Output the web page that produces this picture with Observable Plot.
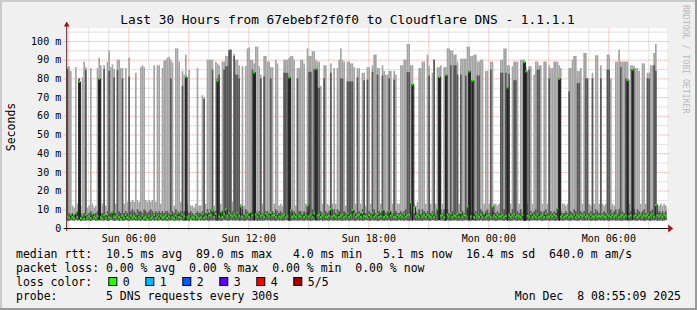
<!DOCTYPE html>
<html><head><meta charset="utf-8">
<script src="https://cdn.jsdelivr.net/npm/d3@7"></script>
<script src="https://cdn.jsdelivr.net/npm/@observablehq/plot@0.6"></script>
<style>
html,body{margin:0;padding:0;background:#f0f0f0;}
#chart svg{display:block;}
</style></head><body><div id="chart"></div>
<script>
// ---- data: one entry per 5-minute step (360 steps = 30 hours), values in ms ----
const maxMs = [
86,86.5,84,12,11,86,13,80,12,80.5,89,86,11,12,85.5,13,11,12,85.5,91,
87,13,87,12,89,95,86,87.5,85,13,90,90,85.5,85.5,13,85.5,14,91,14,15,
14,83,15,14,86,87,86,15,14,15,14,15,87,14,87,87,13,85.5,89.5,90,
91,91.5,90,88.5,12,96,96,89,14,84,82,92.7,13,84.5,12,12,11,13,85.5,12,
12,71,70,13,90,90,90,90,12,89,88,87,13,89,89,92,92,95.4,95.4,14,
93,90,90,87,13,86.5,12,86.5,96,96.5,90,90,88,97,97,86.5,82,13,92,92,
89,89,86,86,13,90,88,12,13,12,90,90,90,91,92,92,90,12,85.5,85.5,
90,90,88,13,96,92,92,94.5,94.5,90,89,89,76,13,87,87,13,12,88,13,
85.5,13,85.5,90,96,90,89,12,89,89,88,88,86,13,85.5,85.5,13,83,83,12,
86,86,13,87,92.7,92.7,85.5,85.5,13,87,84,82,82,84,84,13,84,82,13,13,
87,87,90,90,98.4,98.4,87,87,13,12,14,85.5,85.5,89,89,13,92.7,86.5,13,83,
90,13,86,86,87,13,86,86,96,96,95,95,92.7,92.7,89,13,90.5,90.5,90.5,90.5,
97,97,92,92,92.7,92.7,89,89,90,90,13,84,84,13,89,89,13,13,12,13,
90,90,96,96,87,87,13,86.5,89,89,89,13,90,90,90,86.5,13,86.5,86.5,13,
82,89,89,87,87,13,89,89,13,87,85.5,85.5,89,89,89,87,85.5,13,13,12,
13,85.5,85.5,90,92,92,84,84,85.5,13,93.6,93.6,80,13,12,83,13,92.4,92.4,13,
87,13,12,13,92.7,92.7,80,13,12,89,89,95.4,89,89,89,89,89,13,87,87,
86.5,85.5,85.5,84,13,88,88,13,83,83,87,87,93.6,98.4,13,12,13,12,13,12
];
const innerMs = [
85,8,7,8,7,8,9,80,8,7,8,84.5,7,8,9,8,7,8,9,80,
8,8,85,7,9,84,8,9,80.5,8,84.5,9,8,80,8,9,8,81,9,10,
9,8,10,9,9,8,10,9,8,9,10,9,8,9,8,9,8,9,8,9,
9,8,80,9,8,10,9,8,9,76,9,81,9,8,9,8,7,8,9,8,
8,9,69,8,10,8,10,84.7,8,9,80,82,8,9,84.7,86.5,86.5,95,95.4,9,
92,82,82,80,8,10,8,10,9,8,9,84.7,83.4,9,8,9,80,8,81,9,
9,8,80,9,8,10,9,8,9,8,83,83,83,81,9,8,9,8,80,9,
9,8,9,8,9,83.5,83.5,10,85,85.2,75,75,9,8,80,9,8,9,83,8,
10,8,10,9,80,80,9,8,78.4,78.4,78.4,78.4,9,8,80.5,9,8,10,79,8,
79.3,9,8,83.5,10,8,82,9,8,81.5,9,8,9,80,9,8,79.3,9,8,8,
9,8,9,10,83.4,83.4,9,77,8,9,8,10,8,10,9,8,9,81.5,8,9,
90,8,9,81,10,8,10,82,10,8,87,9,87,87,82,8,82,9,8,81.5,
10,84,9,79,8,9,81.5,81.5,10,9,8,9,10,8,84.7,9,8,8,9,8,
83,83,10,83,75.4,82.5,8,10,79,79,9,8,10,8,89,84,8,84.7,9,8,
9,10,84.7,84.7,9,8,9,10,8,80,9,8,9,8,9,80,9,8,8,9,
8,73,9,8,10,9,77.5,77.5,9,8,9,80,80,8,9,80,8,10,9,8,
80,8,9,8,84.7,84.7,10,8,9,10,8,10,86,9,8,80,79.3,8,9,85,
10,8,10,9,8,9,10,8,80,80,9,10,87,84,8,9,8,9,8,9
];
const medianMs = [
6.2,5.8,7.5,6.1,5.4,8.3,6.0,78.4,5.6,6.8,5.2,7.1,5.9,6.4,5.5,7.9,6.3,5.7,6.6,80,
6.0,5.3,6.9,5.8,7.4,6.2,5.5,8.6,6.4,5.9,7.0,6.1,5.2,6.7,5.8,7.3,6.0,5.4,6.8,5.9,
6.5,5.7,7.6,6.3,5.4,6.9,5.8,6.2,5.1,6.6,5.5,6.0,7.2,5.6,6.4,5.3,6.8,5.9,6.1,7.0,
5.6,6.3,7.8,6.0,5.4,6.9,8.1,6.2,5.7,7.4,6.5,81,5.9,6.6,5.3,6.1,5.8,7.0,6.4,5.5,
6.0,7.6,5.8,6.3,8.5,6.9,7.2,9.6,6.1,7.8,79,6.4,8.9,6.2,7.5,10.2,6.8,8.0,7.1,6.5,
7.3,6.6,8.2,7.0,11.8,6.4,7.7,6.9,7.4,6.2,8.8,7.1,83.4,7.6,6.5,7.9,6.8,7.2,6.3,8.0,
7.5,6.6,8.4,6.9,7.2,6.1,7.8,6.4,6.0,6.7,7.3,5.9,6.5,80.7,9.8,6.3,7.0,6.2,7.6,6.8,
6.4,7.7,6.2,7.0,12.3,6.6,7.4,6.0,8.1,85.2,6.9,7.3,6.1,6.8,7.5,6.3,6.0,6.7,10.4,6.5,
7.1,6.4,7.9,6.2,6.8,7.4,6.0,6.6,7.8,6.3,7.0,9.9,7.6,6.1,6.9,7.3,6.2,8.4,6.7,6.4,
6.0,7.2,6.5,8.0,6.3,6.9,7.7,6.1,6.6,9.9,6.2,7.0,6.4,9.1,6.8,7.5,6.3,6.0,7.2,6.5,
7.0,6.4,7.6,6.2,6.9,7.3,13.9,77,11.2,6.5,7.1,6.3,7.8,6.6,7.0,6.1,7.4,6.8,6.2,7.5,
6.3,7.5,10.7,81,6.8,7.2,6.0,82,7.4,6.5,7.9,6.2,7.0,6.6,7.7,6.3,8.2,6.4,7.1,6.8,
11.8,84,6.5,79,6.2,7.6,6.8,6.1,7.3,6.4,7.9,6.0,6.7,7.2,6.3,11.8,6.9,6.2,7.4,6.6,
6.4,7.1,6.0,6.7,75.4,7.4,6.2,6.9,7.6,6.3,7.0,6.5,6.1,7.3,89,84,6.8,6.4,7.7,6.2,
6.9,6.3,7.5,6.0,6.6,7.2,6.1,7.8,6.5,6.2,7.0,6.4,7.3,6.7,11.0,80,6.3,7.1,6.0,6.6,
7.2,6.1,6.8,6.4,7.5,6.0,6.9,6.3,7.1,6.6,7.4,6.2,6.8,6.0,7.3,6.5,6.1,7.0,6.4,6.7,
6.3,7.0,6.5,6.1,7.4,6.8,6.2,7.1,6.4,6.9,7.5,6.0,6.7,7.2,6.3,6.9,79.3,6.6,7.0,85,
6.5,7.2,6.1,6.8,7.4,6.3,7.0,6.6,7.3,6.2,6.9,7.6,6.4,12.5,7.1,6.5,7.0,6.3,7.4,6.8
];
const minMs = [
4.0,3.8,4.2,4.1,3.9,4.3,4.0,4.4,3.7,4.1,4.0,3.9,4.2,4.0,3.8,4.1,4.3,3.9,4.0,4.2,
4.1,3.9,4.0,4.2,3.8,4.0,4.3,4.1,3.9,4.0,4.2,3.8,4.1,4.0,3.9,4.2,4.0,3.8,4.1,4.0,
4.2,3.9,4.0,4.1,3.8,4.2,4.0,3.9,4.1,4.0,3.8,4.2,4.0,4.1,3.9,4.0,4.2,3.8,4.1,4.0,
3.9,4.1,4.0,4.2,3.8,4.0,4.1,3.9,4.2,4.0,3.8,4.1,4.0,3.9,4.2,4.0,4.1,3.8,4.0,4.2,
4.0,4.1,3.9,4.2,4.0,3.8,4.1,4.0,4.2,3.9,4.0,4.1,3.8,4.0,4.2,4.1,3.9,4.0,4.2,4.0,
4.1,4.0,4.2,3.9,4.0,4.1,3.8,4.0,4.2,4.0,3.9,4.1,4.0,4.2,3.8,4.0,4.1,3.9,4.0,4.2,
4.0,4.2,3.9,4.1,4.0,3.8,4.2,4.0,4.1,3.9,4.0,4.2,4.1,4.0,3.8,4.1,4.0,4.2,3.9,4.0,
4.1,4.0,3.9,4.2,4.0,4.1,3.8,4.0,4.2,4.1,3.9,4.0,4.2,3.8,4.0,4.1,4.0,3.9,4.2,4.0,
4.0,4.1,3.9,4.2,4.0,3.8,4.1,4.0,4.2,3.9,4.0,4.1,4.0,3.8,4.2,4.0,4.1,3.9,4.0,4.2,
4.1,4.0,3.9,4.2,4.0,4.1,3.8,4.0,4.2,4.0,3.9,4.1,4.0,4.2,3.8,4.0,4.1,3.9,4.0,4.2,
4.0,4.1,3.9,4.2,4.0,3.8,4.1,4.0,4.2,3.9,4.0,4.1,4.0,3.8,4.2,4.0,4.1,3.9,4.0,4.2,
4.1,4.0,3.9,4.2,4.0,4.1,3.8,4.0,4.2,4.0,3.9,4.1,4.0,4.2,3.8,4.0,4.1,3.9,4.0,4.2,
4.0,4.1,3.9,4.2,4.0,3.8,4.1,4.0,4.2,3.9,4.0,4.1,4.0,3.8,4.2,4.0,4.1,3.9,4.0,4.2,
4.1,4.0,3.9,4.2,4.0,4.1,3.8,4.0,4.2,4.0,3.9,4.1,4.0,4.2,3.8,4.0,4.1,3.9,4.0,4.2,
4.0,4.1,3.9,4.2,4.0,3.8,4.1,4.0,4.2,3.9,4.0,4.1,4.0,3.8,4.2,4.0,4.1,3.9,4.0,4.2,
4.1,4.0,3.9,4.2,4.0,4.1,3.8,4.0,4.2,4.0,3.9,4.1,4.0,4.2,3.8,4.0,4.1,3.9,4.0,4.2,
4.0,4.1,3.9,4.2,4.0,3.8,4.1,4.0,4.2,3.9,4.0,4.1,4.0,3.8,4.2,4.0,4.1,3.9,4.0,4.2,
4.1,4.0,3.9,4.2,4.0,4.1,3.8,4.0,4.2,4.0,3.9,4.1,4.0,4.2,3.8,4.0,4.1,3.9,4.0,4.2
];
const yTicks = [0,10,20,30,40,50,60,70,80,90,100];
const yMinorGrid = [5,15,25,35,45,55,65,75,85,95,105];
const titleText = "Last 30 Hours from 67ebebf2f0f0 to Cloudflare DNS - 1.1.1.1";
const yLabel = "Seconds";
const watermark = "RRDTOOL / TOBI OETIKER";
const legendLines = [
  "median rtt:  10.5 ms avg  89.0 ms max   4.0 ms min   5.1 ms now  16.4 ms sd  640.0 m am/s",
  "packet loss: 0.00 % avg  0.00 % max  0.00 % min  0.00 % now",
  "loss color:",
  "probe:       5 DNS requests every 300s"
];
const lossLabels = ["0","1","2","3","4","5/5"];
const lossColors = ["#26ff00","#00b8ff","#0059ff","#5e00ff","#ff0000","#a10000"];
const stampText = "Mon Dec  8 08:55:09 2025";

// ---- time frame ----
const stepMs = 300000;
const dataStart = Date.UTC(2025, 11, 7, 2, 55, 0);
const viewEnd = Date.UTC(2025, 11, 8, 8, 55, 9);
const viewStart = viewEnd - 30 * 3600 * 1000;

const rows = maxMs.map((hi, i) => ({
  t0: new Date(dataStart + i * stepMs),
  t1: new Date(dataStart + (i + 1) * stepMs),
  lo: minMs[i], inner: innerMs[i], med: medianMs[i], hi
}));

const hours = d3.utcHour.range(new Date(viewStart), new Date(viewEnd));
const majorHours = hours.filter(d => d.getUTCHours() % 3 === 0);
const minorHours = hours.filter(d => d.getUTCHours() % 3 !== 0);
const labelHours = hours.filter(d => d.getUTCHours() % 6 === 0);
const fmt = d3.utcFormat("%a %H:%M");

const mono = "'DejaVu Sans Mono', monospace";

const chart = Plot.plot({
  width: 697, height: 310,
  marginLeft: 66.7, marginRight: 30.3, marginTop: 27.5, marginBottom: 82,
  x: {type: "utc", domain: [new Date(viewStart), new Date(viewEnd)]},
  y: {domain: [0, 107.2]},
  style: {background: "#f0f0f0", fontFamily: mono, color: "#000", overflow: "visible"},
  marks: [
    Plot.frame({fill: "#ffffff", stroke: null}),
    Plot.ruleX(minorHours, {stroke: "#c4c4c4", strokeDasharray: "1,1", insetBottom: -3}),
    Plot.ruleY(yMinorGrid, {stroke: "#c4c4c4", strokeDasharray: "1,1", insetRight: -2}),
    Plot.ruleX(majorHours, {stroke: "#e39a9a", strokeDasharray: "1,1", insetBottom: -3}),
    Plot.ruleY(yTicks.filter(d => d > 0), {stroke: "#e39a9a", strokeDasharray: "1,1", insetLeft: -3, insetRight: -2}),
    Plot.rect(rows, {x1: "t0", x2: "t1", y1: "lo", y2: "hi", fill: "#a4a4a4"}),
    Plot.rect(rows, {x1: "t0", x2: "t1", y1: "lo", y2: "inner", fill: "#585858"}),
    Plot.rect(rows.filter(d => d.med > 20), {x1: "t0", x2: "t1", y1: "lo", y2: "med", fill: "#1e1e1e"}),
    Plot.line(rows, {x: "t0", y: "med", curve: "step-after", stroke: "#262626", strokeWidth: 1}),
    Plot.ruleY(rows, {y: "med", x1: "t0", x2: "t1", stroke: "#22f000", strokeWidth: 2}),
    Plot.axisY(yTicks, {anchor: "left", tickSize: 0, tickPadding: 6, label: null,
      tickFormat: d => d === 0 ? "0" : `${d} m`, fontSize: 10, fontFamily: mono, fill: "#000"}),
    Plot.axisX(labelHours, {anchor: "bottom", tickSize: 0, tickPadding: 6, label: null,
      tickFormat: fmt, fontSize: 10, fontFamily: mono, fill: "#000"})
  ]
});
document.getElementById("chart").appendChild(chart);

// ---- decorations drawn onto the same SVG ----
const svg = d3.select(chart);
const W = 697, H = 310;
const x0 = 66.7, xEnd = 666.7, yBase = 228, yTop = 27.5;

// axes and arrows
svg.append("line").attr("x1", x0 - 3).attr("x2", xEnd + 2).attr("y1", yBase + 0.5).attr("y2", yBase + 0.5).attr("stroke", "#111").attr("stroke-width", 1);
svg.append("line").attr("x1", x0).attr("x2", x0).attr("y1", yBase + 3).attr("y2", yTop - 3).attr("stroke", "#4a2222").attr("stroke-width", 1);
svg.append("path").attr("d", `M${xEnd + 1.5},${yBase - 3.5}L${xEnd + 6.5},${yBase + 0.5}L${xEnd + 1.5},${yBase + 4.5}Z`).attr("fill", "#9b1717");
svg.append("path").attr("d", `M${x0 - 3},${yTop - 1}L${x0},${yTop - 6}L${x0 + 3},${yTop - 1}Z`).attr("fill", "#9b1717");

function addText(x, y, t, size, anchor, fill) {
  return svg.append("text").attr("x", x).attr("y", y).attr("text-anchor", anchor)
    .attr("xml:space", "preserve").style("white-space", "pre")
    .attr("font-family", mono).attr("font-size", size).attr("fill", fill || "#000").text(t);
}
// title
addText(347.5, 24, titleText, 12.8, "middle");
// y label
addText(0, 0, yLabel, 11.5, "middle").attr("transform", "translate(15.3,127) rotate(-90)");
// watermark
addText(0, 0, watermark, 8.2, "start", "#b8b8b8").attr("transform", "translate(683.3,5) rotate(90)");

// legend lines
const baselines = [258, 272, 286, 300];
legendLines.forEach((t, k) => addText(16, baselines[k], t, 11.5, "start"));
// loss colour swatches
const boxX = [108.3, 145.3, 182.3, 219.3, 256.3, 293.3];
lossLabels.forEach((lab, k) => {
  svg.append("rect").attr("x", boxX[k] + 0.5).attr("y", 277.5).attr("width", 8).attr("height", 8)
    .attr("fill", lossColors[k]).attr("stroke", "#000").attr("stroke-width", 1);
  addText(boxX[k] + 14.5, 286, lab, 11.5, "start");
});
addText(681, 300, stampText, 11.5, "end");

// 3D frame of the image
svg.append("rect").attr("x", 0).attr("y", 0).attr("width", W).attr("height", 2).attr("fill", "#cbcbcb");
svg.append("rect").attr("x", 0).attr("y", 0).attr("width", 2).attr("height", H).attr("fill", "#cbcbcb");
svg.append("rect").attr("x", W - 2).attr("y", 0).attr("width", 2).attr("height", H).attr("fill", "#999999");
svg.append("rect").attr("x", 0).attr("y", H - 2).attr("width", W).attr("height", 2).attr("fill", "#999999");
</script></body></html>
